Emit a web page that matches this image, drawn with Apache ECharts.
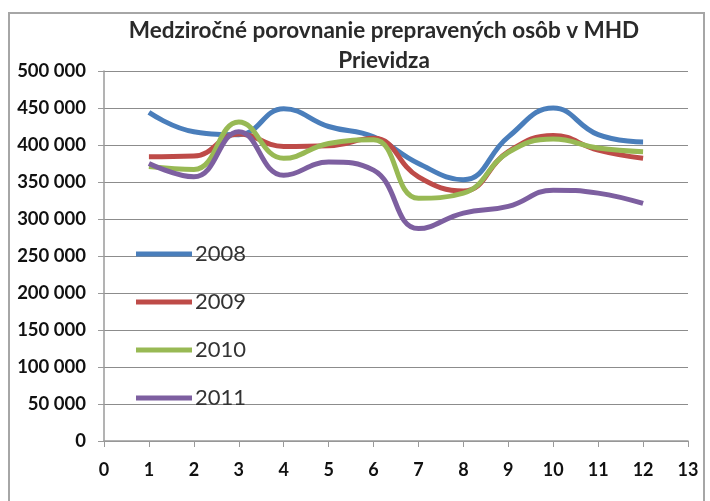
<!DOCTYPE html>
<html><head><meta charset="utf-8">
<script src="https://cdn.jsdelivr.net/npm/echarts@6/dist/echarts.min.js"></script>
<style>html,body{margin:0;padding:0;background:#fff}#c{width:710px;height:501px;position:relative}
#frame{position:absolute;left:8px;top:12px;width:697px;height:500px;border:2px solid #a6a6a6;box-sizing:border-box;pointer-events:none}</style>
</head><body><div id="c"></div><div id="frame"></div>
<script>
const months = [1,2,3,4,5,6,7,8,9,10,11,12];
const s2008 = [444000,418000,414000,449000,425000,411000,375000,353000,411000,450000,414000,404000];
const s2009 = [384000,385000,415000,398000,399000,409000,357000,338000,391000,413000,393000,382000];
const s2010 = [371000,367000,431000,382000,402000,407000,328000,335000,390000,408000,396000,391000];
const s2011 = [375000,357000,418000,359000,377000,366000,287000,308000,317000,339000,335000,321000];
const names = ['2008','2009','2010','2011'];
const colors = ['#4A7EBB','#BE4B48','#98B954','#7D5FA0'];
const title = 'Medziročné porovnanie prepravených osôb v MHD\nPrievidza';

const chart = echarts.init(document.getElementById('c'));
const mk = (n, arr, i) => ({
  name: n, type: 'line', smooth: 0.45, symbol: 'none',
  data: months.map((m, k) => [m, arr[k]]),
  lineStyle: {width: 5, color: colors[i]}, itemStyle: {color: colors[i]}
});
chart.setOption({
  animation: false,
  title: {text: title, left: 379, textAlign: 'center', top: 11,
    textStyle: {fontFamily: 'Lato', fontSize: 22.5, fontWeight: 'bold', color: '#2a2a2a', lineHeight: 30}},
  legend: {orient: 'vertical', left: 131, top: 238, itemGap: 26, itemWidth: 56, itemHeight: 5,
    icon: 'rect', data: names,
    textStyle: {fontFamily: 'Lato', fontSize: 22, color: '#333', padding: [0, 0, 0, -2]}},
  grid: {left: 104, right: 22, top: 71, bottom: 60},
  xAxis: {type: 'value', min: 0, max: 13, interval: 1,
    axisLine: {lineStyle: {color: '#9a9a9a', width: 1.5}},
    axisTick: {show: true, length: 6, lineStyle: {color: '#9a9a9a'}},
    splitLine: {show: false},
    axisLabel: {margin: 20, fontFamily: 'Lato', fontWeight: 'bold', fontSize: 18, color: '#111'}},
  yAxis: {type: 'value', min: 0, max: 500000, interval: 50000,
    axisLine: {show: true, lineStyle: {color: '#9a9a9a', width: 1.5}},
    axisTick: {show: true, length: 6, lineStyle: {color: '#9a9a9a'}},
    splitLine: {lineStyle: {color: '#8c8c8c', width: 1}},
    axisLabel: {margin: 18, fontFamily: 'Lato', fontWeight: 'bold', fontSize: 18.5, color: '#111',
      formatter: v => v === 0 ? '0' : String(v).replace(/\B(?=(\d{3})+(?!\d))/g, ' ')}},
  series: [mk(names[0], s2008, 0), mk(names[1], s2009, 1), mk(names[2], s2010, 2), mk(names[3], s2011, 3)]
});
</script></body></html>
